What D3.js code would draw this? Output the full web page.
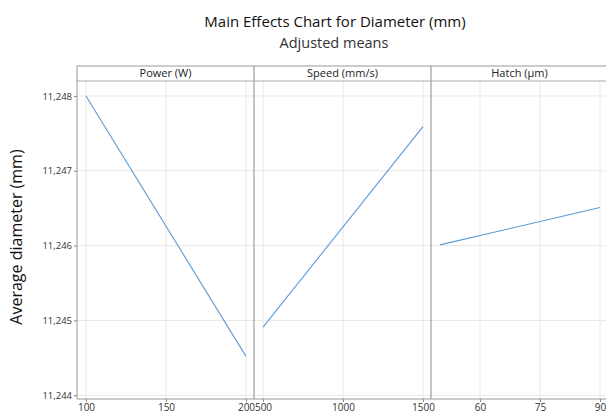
<!DOCTYPE html>
<html>
<head>
<meta charset="utf-8">
<script src="https://cdn.jsdelivr.net/npm/d3@7"></script>
<style>
  body { margin: 0; background: #fff; }
  text { font-family: "Open Sans", "Noto Sans", sans-serif; fill: #222; }
</style>
</head>
<body>
<script>
const WIDTH_PX = 606;
const HEIGHT_PX = 416;

// factor panels
const factors = ["Power (W)", "Speed (mm/s)", "Hatch (µm)"];

const powerLevels = [100, 200];
const powerMeans = [11.2480, 11.24452];
const speedLevels = [500, 1500];
const speedMeans = [11.24491, 11.24759];
const hatchLevels = [50, 90];
const hatchMeans = [11.24601, 11.24651];

const powerTicks = [100, 150, 200];
const speedTicks = [500, 1000, 1500];
const hatchTicks = [60, 75, 90];

const yTicks = [11.244, 11.245, 11.246, 11.247, 11.248];

const panels = [
  { name: factors[0], levels: powerLevels, means: powerMeans, ticks: powerTicks },
  { name: factors[1], levels: speedLevels, means: speedMeans, ticks: speedTicks },
  { name: factors[2], levels: hatchLevels, means: hatchMeans, ticks: hatchTicks }
];

const PLOT_TOP = 81;
const HEADER_TOP = 66;
const PLOT_BOTTOM = 399;

let svg = d3.select("body").append("svg")
    .attr("width", WIDTH_PX)
    .attr("height", HEIGHT_PX);

svg.append("text")
    .attr("x", 335).attr("y", 27)
    .attr("text-anchor", "middle")
    .style("font-size", "15px")
    .style("fill", "#111")
    .text("Main Effects Chart for Diameter (mm)");

svg.append("text")
    .attr("x", 334).attr("y", 48)
    .attr("text-anchor", "middle")
    .style("font-size", "14.5px")
    .style("fill", "#333")
    .text("Adjusted means");

svg.append("text")
    .attr("transform", "translate(22,237) rotate(-90)")
    .attr("text-anchor", "middle")
    .style("font-size", "16px")
    .style("fill", "#111")
    .text("Average diameter (mm)");

let panelScale = d3.scaleBand()
    .domain(factors)
    .range([77, 608]);

let yScale = d3.scaleLinear()
    .domain([11.24395, 11.2482])
    .range([PLOT_BOTTOM, PLOT_TOP]);

const commaLocale = d3.formatLocale({ decimal: ",", thousands: ".", grouping: [3], currency: ["", ""] });
const yFormat = commaLocale.format(".3f");

// horizontal grid lines
svg.append("g")
    .selectAll("line")
    .data(yTicks)
    .join("line")
    .attr("x1", 77).attr("x2", 608)
    .attr("y1", function(d) { return yScale(d); })
    .attr("y2", function(d) { return yScale(d); })
    .attr("stroke", "#e8e8e8")
    .attr("stroke-width", 1);

for (let i = 0; i < panels.length; i++) {
  const p = panels[i];
  const x0 = panelScale(p.name);
  const w = panelScale.bandwidth();
  let xScale = d3.scaleLinear()
      .domain(d3.extent(p.levels))
      .range([x0 + 9, x0 + w - 8]);

  let g = svg.append("g");

  // vertical grid
  g.selectAll("line.grid")
      .data(p.ticks)
      .join("line")
      .attr("class", "grid")
      .attr("x1", function(d) { return xScale(d); })
      .attr("x2", function(d) { return xScale(d); })
      .attr("y1", PLOT_TOP).attr("y2", PLOT_BOTTOM)
      .attr("stroke", "#e8e8e8");

  // x axis
  let ax = g.append("g")
      .attr("transform", "translate(0," + PLOT_BOTTOM + ")")
      .call(d3.axisBottom(xScale).tickValues(p.ticks).tickSize(3).tickPadding(2).tickFormat(d3.format("d")));
  ax.select(".domain").remove();
  ax.selectAll(".tick line").attr("stroke", "#888");
  ax.selectAll(".tick text").style("font-size", "10px").style("fill", "#333")
      .style("font-family", "'Open Sans', sans-serif");

  // header
  g.append("text")
      .attr("x", x0 + w / 2).attr("y", HEADER_TOP + 11)
      .attr("text-anchor", "middle")
      .style("font-size", "11px")
      .text(p.name);

  // mean line
  let line = d3.line()
      .x(function(d, j) { return xScale(p.levels[j]); })
      .y(function(d) { return yScale(d); });
  g.append("path")
      .attr("d", line(p.means))
      .attr("fill", "none")
      .attr("stroke", "#5b9bd5")
      .attr("stroke-width", 1.1);

  if (i > 0) {
    g.append("line")
        .attr("x1", x0).attr("x2", x0)
        .attr("y1", HEADER_TOP).attr("y2", PLOT_BOTTOM)
        .attr("stroke", "#8a8a8a");
  }
}

// frame
svg.append("line").attr("x1", 77).attr("x2", 77).attr("y1", HEADER_TOP).attr("y2", PLOT_BOTTOM)
    .attr("stroke", "#999");
svg.append("line").attr("x1", 77).attr("x2", 608).attr("y1", HEADER_TOP).attr("y2", HEADER_TOP)
    .attr("stroke", "#999");
svg.append("line").attr("x1", 77).attr("x2", 608).attr("y1", PLOT_TOP).attr("y2", PLOT_TOP)
    .attr("stroke", "#aaa");
svg.append("line").attr("x1", 77).attr("x2", 608).attr("y1", PLOT_BOTTOM).attr("y2", PLOT_BOTTOM)
    .attr("stroke", "#999");

// y axis
let yAxis = svg.append("g")
    .attr("transform", "translate(77,0)")
    .call(d3.axisLeft(yScale).tickValues(yTicks).tickSize(3).tickPadding(2).tickFormat(yFormat));
yAxis.select(".domain").remove();
yAxis.selectAll(".tick line").attr("stroke", "#888");
yAxis.selectAll(".tick text").style("font-size", "9.5px").style("fill", "#333")
    .style("font-family", "'Open Sans', sans-serif");
</script>
</body>
</html>
